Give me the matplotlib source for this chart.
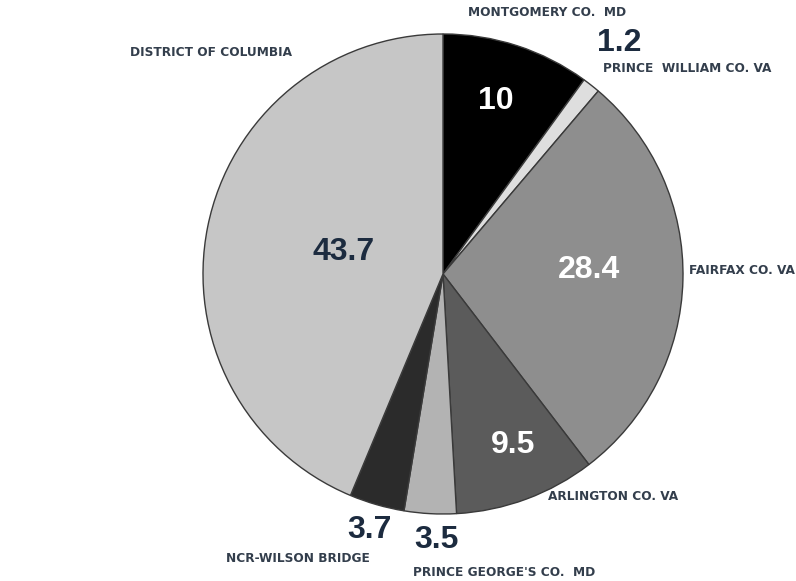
import matplotlib
matplotlib.use("Agg")
import matplotlib.pyplot as plt
from matplotlib import font_manager
from matplotlib.font_manager import FontProperties

labels = ["MONTGOMERY CO.  MD", "PRINCE  WILLIAM CO. VA", "FAIRFAX CO. VA",
          "ARLINGTON CO. VA", "PRINCE GEORGE'S CO.  MD", "NCR-WILSON BRIDGE",
          "DISTRICT OF COLUMBIA"]
values = [10, 1.2, 28.4, 9.5, 3.5, 3.7, 43.7]
colors = ["#000000", "#dedede", "#8e8e8e", "#5b5b5b", "#b3b3b3", "#2b2b2b", "#c6c6c6"]

W, H = 796, 581
fig = plt.figure(figsize=(W / 100, H / 100), dpi=100)
fig.patch.set_facecolor("white")

cx, cy, r = 443, 274, 240
ax = fig.add_axes([(cx - r) / W, (H - cy - r) / H, 2 * r / W, 2 * r / H])
ax.pie(values, colors=colors, startangle=90, counterclock=False, radius=1.0,
       wedgeprops=dict(edgecolor="#3a3a3a", linewidth=1.0))
ax.set_xlim(-1.0, 1.0)
ax.set_ylim(-1.0, 1.0)
ax.set_aspect("equal")
ax.axis("off")

# find a condensed bold font if one is installed
cond = None
for f in font_manager.fontManager.ttflist:
    st = str(f.stretch).lower()
    if ("condensed" in st or "narrow" in f.name.lower() or "condensed" in f.name.lower()) \
            and (f.weight in ("bold", 700) or str(f.weight) == "700"):
        cond = f.fname
        break
if cond:
    lab_fp = FontProperties(fname=cond, size=9.7)
else:
    lab_fp = FontProperties(family="DejaVu Sans", weight="bold", size=8.4)

num_fp = FontProperties(family=["Liberation Sans", "DejaVu Sans"], weight="bold", size=23)
navy = "#1c2b3f"
labcol = "#333e4c"

def ftxt(x, y, s, **kw):
    fig.text(x / W, 1 - y / H, s, **kw)

# category labels (pixel positions: left edge, vertical centre)
lab_pos = [(468, 12), (603, 68), (689, 270), (548, 497), (413, 573), (226, 559), (130, 53)]
for lab, (x, y) in zip(labels, lab_pos):
    ftxt(x, y, lab, fontproperties=lab_fp, color=labcol, ha="left", va="center")

# value labels (centre positions, colour)
val_pos = [(496, 101, "white"), (619, 43, navy), (589, 270, "white"), (513, 445, "white"),
           (436, 540, navy), (369, 530, navy), (344, 252, navy)]
for v, (x, y, c) in zip(values, val_pos):
    ftxt(x, y, f"{v:g}", fontproperties=num_fp, color=c, ha="center", va="center")

fig.savefig("out.png", dpi=100, facecolor="white")
